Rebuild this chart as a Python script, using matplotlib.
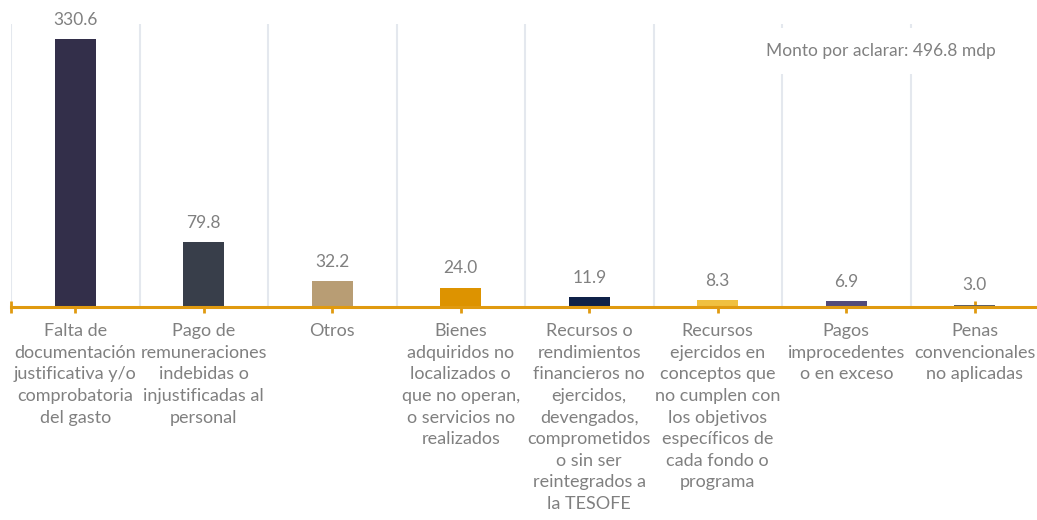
import matplotlib
matplotlib.use("Agg")
import matplotlib.pyplot as plt

# datos (mdp)
categorias = [
    "Falta de\ndocumentación\njustificativa y/o\ncomprobatoria\ndel gasto",
    "Pago de\nremuneraciones\nindebidas o\ninjustificadas al\npersonal",
    "Otros",
    "Bienes\nadquiridos no\nlocalizados o\nque no operan,\no servicios no\nrealizados",
    "Recursos o\nrendimientos\nfinancieros no\nejercidos,\ndevengados,\ncomprometidos\no sin ser\nreintegrados a\nla TESOFE",
    "Recursos\nejercidos en\nconceptos que\nno cumplen con\nlos objetivos\nespecíficos de\ncada fondo o\nprograma",
    "Pagos\nimprocedentes\no en exceso",
    "Penas\nconvencionales\nno aplicadas",
]
montos = [330.6, 79.8, 32.2, 24.0, 11.9, 8.3, 6.9, 3.0]
colores = ["#332f4a", "#383e4a", "#b89d74", "#dd9300",
           "#0e2148", "#f0c040", "#524a7a", "#5d6068"]
total_txt = "Monto por aclarar: 496.8 mdp"

plt.rcParams['font.family'] = ['Lato', 'DejaVu Sans']
gris = "#808080"
naranja = "#e09a10"

W, H = 1037, 520
fig = plt.figure(figsize=(W / 100, H / 100), dpi=100)
ax = fig.add_axes([11 / W, (H - 307) / H, 1028 / W, 283 / H])

x = list(range(len(montos)))
barras = ax.bar(x, montos, width=0.32, color=colores, zorder=3)
ax.bar_label(barras, labels=[f"{v:.1f}" for v in montos], padding=8,
             fontsize=12.5, color=gris)

ax.set_xlim(-0.5, len(montos) - 0.5)
ax.set_ylim(0, 349)

# lineas verticales entre categorias
for b in [i - 0.5 for i in range(len(montos))]:
    ax.axvline(b, color="#e4e8ee", lw=1.5, zorder=1)

for s in ["top", "right", "left"]:
    ax.spines[s].set_visible(False)
ax.spines["bottom"].set_color(naranja)
ax.spines["bottom"].set_linewidth(2.2)
ax.spines["bottom"].set_zorder(4)

ax.set_yticks([])
ax.set_xticks([-0.5] + x)
ax.set_xticklabels([])
ax.tick_params(axis="x", direction="inout", length=9, width=2, color=naranja)

for i, lab in enumerate(categorias):
    ax.text(i, -20, lab, ha="center", va="top", fontsize=13, color=gris,
            linespacing=1.43, transform=ax.transData, clip_on=False)

ax.text(0.958, 0.905, total_txt, transform=ax.transAxes, ha="right",
        va="center", fontsize=12.5, color=gris, zorder=5,
        bbox=dict(facecolor="white", edgecolor="none", pad=11))

fig.savefig("out.png", dpi=100)
